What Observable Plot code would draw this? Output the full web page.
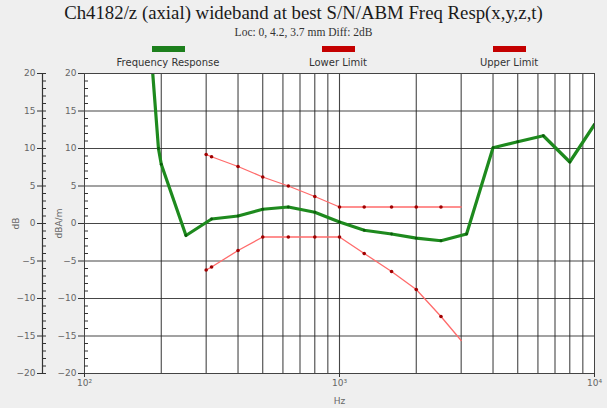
<!DOCTYPE html>
<html>
<head>
<meta charset="utf-8">
<script src="https://cdn.jsdelivr.net/npm/d3@7"></script>
<script src="https://cdn.jsdelivr.net/npm/@observablehq/plot@0.6"></script>
<style>
  html, body { margin: 0; padding: 0; background: #efefef; }
  #wrap { width: 607px; height: 408px; position: relative; overflow: hidden; }
  #head { position: relative; width: 607px; height: 68px; }
  .title { position: absolute; left: 0; width: 607px; text-align: center; top: 2px;
           font-family: "Liberation Serif", serif; font-size: 18.8px; color: #1a1a1a; line-height: 22px; }
  .sub { position: absolute; left: 0; width: 607px; text-align: center; top: 25px;
         font-family: "Liberation Serif", serif; font-size: 11.5px; color: #333; line-height: 14px; }
  .leg { position: absolute; width: 160px; top: 46px; text-align: center; }
  .leg .bar { width: 33px; height: 6px; margin: 0 auto; }
  .leg .lab { font-family: "DejaVu Sans", sans-serif; font-size: 10px; color: #333; margin-top: 5px; line-height: 12px; }
  svg { display: block; }
</style>
</head>
<body>
<div id="wrap">
  <div id="head">
    <div class="title">Ch4182/z (axial) wideband at best S/N/ABM Freq Resp(x,y,z,t)</div>
    <div class="sub">Loc: 0, 4.2, 3.7 mm Diff: 2dB</div>
    <div id="legend"></div>
  </div>
  <div id="chart"></div>
</div>
<script>
// ---- data ----
const respFreq = [185, 195, 200, 250, 315, 400, 500, 630, 800, 1000, 1250, 1600, 2000, 2500, 3150, 4000, 5000, 6300, 8000, 10000];
const respDb   = [20.2, 10, 7.9, -1.6, 0.6, 1.0, 1.9, 2.2, 1.5, 0.2, -0.9, -1.4, -1.95, -2.3, -1.4, 10.1, 10.9, 11.7, 8.2, 13.2];

const limitFreq = [300, 315, 400, 500, 630, 800, 1000, 1250, 1600, 2000, 2500, 3000];
const upperDb   = [9.2, 8.9, 7.6, 6.2, 5.0, 3.6, 2.2, 2.2, 2.2, 2.2, 2.2, 2.2];
const lowerDb   = [-6.2, -5.8, -3.6, -1.8, -1.8, -1.8, -1.8, -4.0, -6.4, -8.8, -12.4, -15.6];

const legendNames = ["Frequency Response", "Lower Limit", "Upper Limit"];
const legendColors = ["#1c7f1c", "#c40000", "#c40000"];
const legendCenters = [168, 338, 509];

const xDomain = [100, 10000];
const yDomain = [-20, 20];
const xGrid = [200,300,400,500,600,700,800,900,1000,2000,3000,4000,5000,6000,7000,8000,9000];
const xDecades = [100, 1000, 10000];
const xDecadeLabels = ["10²", "10³", "10⁴"];
const yMajor = [-20,-15,-10,-5,0,5,10,15,20];
const yMinor = d3.range(-20, 21, 1).filter(v => v % 5 !== 0);

// ---- legend ----
const leg = document.getElementById("legend");
legendNames.forEach((name, i) => {
  const d = document.createElement("div");
  d.className = "leg";
  d.style.left = (legendCenters[i] - 80) + "px";
  d.innerHTML = `<div class="bar" style="background:${legendColors[i]}"></div><div class="lab">${name}</div>`;
  leg.appendChild(d);
});

// ---- tables ----
const resp = respFreq.map((f, i) => ({f, v: respDb[i]}));
const upper = limitFreq.map((f, i) => ({f, v: upperDb[i]}));
const lower = limitFreq.map((f, i) => ({f, v: lowerDb[i]}));
const lastF = limitFreq[limitFreq.length - 1];

const W = 607, H = 340, ML = 84, MR = 13, MT = 5, MB = 35;
const innerW = W - ML - MR;
const axisColor = "#333";
const labelColor = "#666";
const gridColor = "#262626";

const chart = Plot.plot({
  width: W, height: H,
  marginLeft: ML, marginRight: MR, marginTop: MT, marginBottom: MB,
  style: {background: "transparent", fontFamily: "DejaVu Sans, sans-serif", fontSize: "9px", color: labelColor},
  x: {type: "log", domain: xDomain},
  y: {domain: yDomain},
  marks: [
    Plot.frame({fill: "white", stroke: null}),
    Plot.gridX(xGrid, {stroke: gridColor, strokeOpacity: 0.85, strokeWidth: 1.1}),
    Plot.gridY(yMajor, {stroke: gridColor, strokeOpacity: 0.85, strokeWidth: 1.1}),
    // limits
    Plot.line(upper, {x: "f", y: "v", stroke: "#ff6b6b", strokeWidth: 1.3}),
    Plot.line(lower, {x: "f", y: "v", stroke: "#ff6b6b", strokeWidth: 1.3}),
    Plot.dot(upper.filter(d => d.f < lastF), {x: "f", y: "v", r: 1.8, fill: "#a00000", stroke: null}),
    Plot.dot(lower.filter(d => d.f < lastF), {x: "f", y: "v", r: 1.8, fill: "#a00000", stroke: null}),
    // response
    Plot.line(resp, {x: "f", y: "v", stroke: "#1e8a1e", strokeWidth: 3.2, clip: true}),
    Plot.dot(resp, {x: "f", y: "v", r: 1.4, fill: "#0b5a0b", stroke: null, clip: true}),
    Plot.frame({stroke: "#444", strokeWidth: 1}),
    // inner y axis
    Plot.axisY(yMajor, {anchor: "left", tickSize: 6, tickPadding: 2, stroke: axisColor, fill: labelColor,
      label: "dBA/m", labelAnchor: "center", labelOffset: 29, labelArrow: "none"}),
    Plot.tickY(yMinor, {y: d => d, stroke: axisColor, insetRight: innerW - 4}),
    // outer y axis
    Plot.ruleX([xDomain[0]], {dx: -42, stroke: axisColor, strokeWidth: 1.2}),
    Plot.axisY(yMajor, {anchor: "left", dx: -42, tickSize: 5, tickPadding: 2, stroke: axisColor, fill: labelColor,
      label: "dB", labelAnchor: "center", labelOffset: 72, labelArrow: "none"}),
    Plot.tickY(yMinor, {y: d => d, dx: -42, stroke: axisColor, insetRight: innerW - 4}),
    Plot.tickY(yMajor, {y: d => d, dx: -42, stroke: axisColor, insetRight: innerW - 4}),
    // x axis
    Plot.axisX(xDecades, {anchor: "bottom", tickSize: 4, tickPadding: 2, stroke: axisColor, fill: labelColor,
      tickFormat: (d) => xDecadeLabels[xDecades.indexOf(d)],
      label: "Hz", labelAnchor: "center", labelOffset: 30, labelArrow: "none"})
  ]
});
document.getElementById("chart").appendChild(chart);
</script>
</body>
</html>
